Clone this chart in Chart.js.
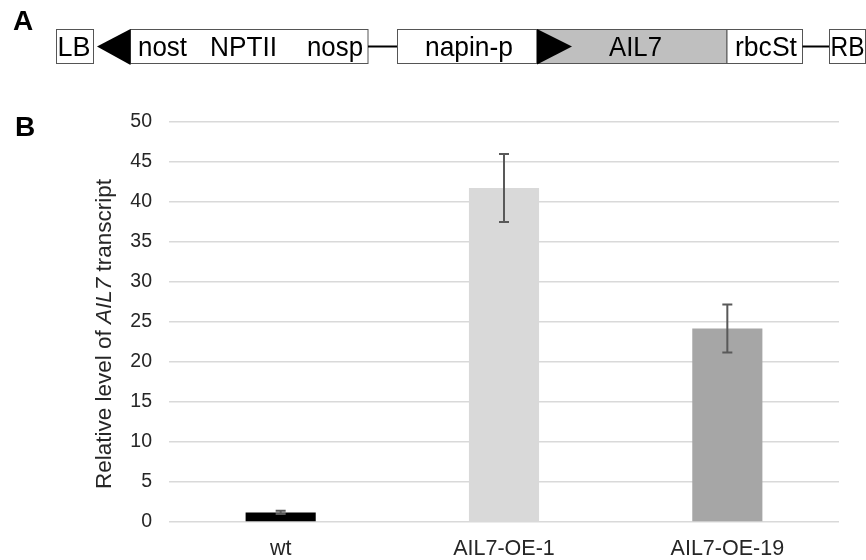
<!DOCTYPE html>
<html>
<head>
<meta charset="utf-8">
<script src="https://cdn.jsdelivr.net/npm/chart.js@4.4.1/dist/chart.umd.min.js"></script>
<style>
  html, body { margin: 0; padding: 0; background: #ffffff; }
  #wrap { position: relative; width: 866px; height: 560px; overflow: hidden; }
  #chart { position: absolute; left: 0; top: 0; }
  #diagram { position: absolute; left: 0; top: 0; pointer-events: none; }
  #diagram text { font-family: "Liberation Sans", Arial, sans-serif; fill: #000; }
</style>
</head>
<body>
<div id="wrap">
  <canvas id="chart" width="866" height="560"></canvas>
  <svg id="diagram" width="866" height="560" xmlns="http://www.w3.org/2000/svg">
    <text x="13" y="30" font-size="28" font-weight="bold">A</text>
    <text x="15" y="136" font-size="28" font-weight="bold">B</text>

    <rect x="56.5" y="29.5" width="37" height="34" fill="#fff" stroke="#555" stroke-width="1"/>
    <rect x="130.5" y="29.5" width="237.5" height="34" fill="#fff" stroke="#555" stroke-width="1"/>
    <polygon points="97,46.5 130.5,29 130.5,65" fill="#000"/>
    <line x1="368" y1="46.5" x2="397" y2="46.5" stroke="#000" stroke-width="2"/>
    <rect x="397.5" y="29.5" width="139.5" height="34" fill="#fff" stroke="#555" stroke-width="1"/>
    <rect x="537" y="29.5" width="190" height="34" fill="#bfbfbf" stroke="#555" stroke-width="1"/>
    <polygon points="537,29 537,64.5 572,46.5" fill="#000"/>
    <rect x="727" y="29.5" width="75.5" height="34" fill="#fff" stroke="#555" stroke-width="1"/>
    <line x1="802.5" y1="46.5" x2="829" y2="46.5" stroke="#000" stroke-width="2"/>
    <rect x="829.5" y="29.5" width="36" height="34" fill="#fff" stroke="#555" stroke-width="1"/>

    <text x="57.5" y="55.5" font-size="27.5" textLength="33" lengthAdjust="spacingAndGlyphs">LB</text>
    <text x="138" y="55.5" font-size="27.5" textLength="49" lengthAdjust="spacingAndGlyphs">nost</text>
    <text x="210" y="55.5" font-size="27.5" textLength="67" lengthAdjust="spacingAndGlyphs">NPTII</text>
    <text x="307" y="55.5" font-size="27.5" textLength="56" lengthAdjust="spacingAndGlyphs">nosp</text>
    <text x="425" y="55.5" font-size="27.5" textLength="88" lengthAdjust="spacingAndGlyphs">napin-p</text>
    <text x="609" y="55.5" font-size="27.5" textLength="53" lengthAdjust="spacingAndGlyphs">AIL7</text>
    <text x="735" y="55.5" font-size="27.5" textLength="62" lengthAdjust="spacingAndGlyphs">rbcSt</text>
    <text x="830.5" y="55.5" font-size="27.5" textLength="34" lengthAdjust="spacingAndGlyphs">RB</text>
  </svg>
</div>
<script>
// ---- data ----
const categories = ['wt', 'AIL7-OE-1', 'AIL7-OE-19'];
const values = [1.2, 41.75, 24.2];
const errors = [0.2, 4.25, 3.0];
const yMin = 0;
const yMax = 50;
const yStep = 5;
const titleParts = ['Relative level of ', 'AIL7', ' transcript'];

// ---- styles ----
const barColors = ['#000000', '#d9d9d9', '#a6a6a6'];
const FONT = '"Liberation Sans", Arial, sans-serif';

const errorBarPlugin = {
  id: 'errorBars',
  afterDatasetsDraw(chart) {
    const ctx = chart.ctx;
    const meta = chart.getDatasetMeta(0);
    const y = chart.scales.y;
    ctx.save();
    ctx.strokeStyle = '#595959';
    ctx.lineWidth = 2;
    meta.data.forEach((bar, i) => {
      const x = bar.x;
      const top = y.getPixelForValue(values[i] + errors[i]);
      const bot = y.getPixelForValue(values[i] - errors[i]);
      const cap = 5;
      ctx.beginPath();
      ctx.moveTo(x, top); ctx.lineTo(x, bot);
      ctx.moveTo(x - cap, top); ctx.lineTo(x + cap, top);
      ctx.moveTo(x - cap, bot); ctx.lineTo(x + cap, bot);
      ctx.stroke();
    });
    ctx.restore();
  }
};

const yTitlePlugin = {
  id: 'yTitle',
  afterDraw(chart) {
    const ctx = chart.ctx;
    const area = chart.chartArea;
    const size = 22.5;
    const fonts = [
      `normal ${size}px ${FONT}`,
      `italic ${size}px ${FONT}`,
      `normal ${size}px ${FONT}`
    ];
    ctx.save();
    let total = 0;
    const widths = titleParts.map((t, i) => {
      ctx.font = fonts[i];
      const w = ctx.measureText(t).width;
      total += w;
      return w;
    });
    ctx.translate(111, (area.top + area.bottom) / 2 + 12);
    ctx.rotate(-Math.PI / 2);
    ctx.fillStyle = '#262626';
    ctx.textBaseline = 'alphabetic';
    ctx.textAlign = 'left';
    let x = -total / 2;
    titleParts.forEach((t, i) => {
      ctx.font = fonts[i];
      ctx.fillText(t, x, 0);
      x += widths[i];
    });
    ctx.restore();
  }
};

new Chart(document.getElementById('chart'), {
  type: 'bar',
  data: {
    labels: categories,
    datasets: [{
      data: values,
      backgroundColor: barColors,
      borderWidth: 0,
      barPercentage: 0.314,
      categoryPercentage: 1.0
    }]
  },
  options: {
    responsive: false,
    animation: false,
    devicePixelRatio: 1,
    layout: { padding: { top: 122, right: 27, bottom: 0, left: 0 } },
    plugins: {
      legend: { display: false },
      tooltip: { enabled: false },
      title: { display: false }
    },
    scales: {
      x: {
        grid: { display: false, drawTicks: false },
        border: { display: false },
        ticks: {
          color: '#262626',
          font: { family: FONT, size: 21.5 },
          padding: 14,
          maxRotation: 0
        },
        afterFit(scale) { scale.height = 38; }
      },
      y: {
        min: yMin,
        max: yMax,
        grid: { color: '#d9d9d9', lineWidth: 1.5, drawTicks: false },
        border: { display: false },
        ticks: {
          stepSize: yStep,
          color: '#262626',
          font: { family: FONT, size: 19.5 },
          padding: 17
        },
        afterFit(scale) { scale.width = 169; }
      }
    }
  },
  plugins: [errorBarPlugin, yTitlePlugin]
});
</script>
</body>
</html>
